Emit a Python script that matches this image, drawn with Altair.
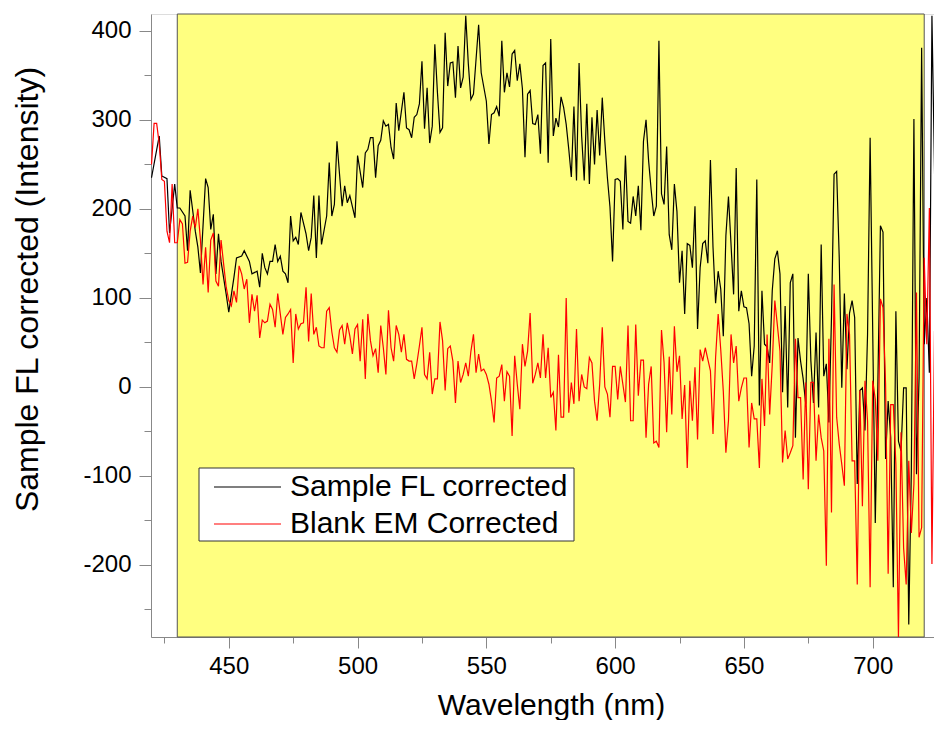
import altair as alt
import pandas as pd

# ---------------- data ----------------
wl_sample = [420, 423, 424, 426, 427, 429, 430, 431, 433, 434, 435, 437, 438, 439, 441, 442, 443, 444, 445, 446,
             447, 449, 450, 452, 453, 455, 456, 458, 459, 461, 462, 463, 464, 465, 466, 467, 468, 469, 470, 471,
             472, 473, 474, 475, 476, 477, 478, 480, 481, 482, 483, 484, 485, 486, 488, 489, 490, 491, 492, 493,
             494, 495, 496, 497, 499, 500, 502, 503, 504, 505, 506, 507, 508, 509, 510, 511, 512, 513, 514, 515,
             516, 518, 519, 520, 521, 522, 523, 524, 525, 526, 527, 528, 529, 530, 531, 532, 533, 534, 535, 536,
             537, 538, 539, 540, 541, 542, 543, 544, 545, 547, 548, 550, 551, 552, 553, 554, 555, 556, 557, 558,
             559, 560, 561, 562, 563, 564, 565, 566, 567, 568, 569, 570, 571, 572, 573, 574, 575, 576, 577, 578,
             579, 580, 581, 582, 583, 584, 585, 586, 587, 588, 589, 590, 591, 592, 593, 594, 595, 596, 597, 598,
             599, 600, 601, 602, 603, 604, 605, 606, 607, 608, 609, 610, 611, 612, 613, 614, 615, 616, 617, 618,
             619, 620, 621, 622, 623, 624, 625, 626, 627, 628, 629, 630, 631, 632, 633, 634, 635, 636, 637, 638,
             639, 640, 641, 642, 643, 644, 645, 646, 647, 648, 649, 650, 651, 652, 653, 654, 655, 656, 657, 658,
             659, 660, 661, 662, 663, 664, 665, 666, 667, 668, 669, 670, 671, 672, 673, 674, 675, 676, 677, 678,
             679, 680, 681, 682, 683, 684, 685, 686, 687, 688, 689, 690, 691, 692, 693, 694, 695, 696, 697, 698,
             699, 701, 702, 703, 704, 705, 706, 707, 708, 709, 710, 711, 712, 713, 714, 715, 716, 717, 718, 719,
             720, 721, 722, 723, 725, 726, 727]
sample_fl = [235, 282, 237, 234, 173, 228, 201, 201, 192, 153, 221, 175, 157, 128, 234, 224, 177, 194, 127, 172,
             141, 104, 84, 123, 145, 147, 153, 141, 127, 130, 112, 150, 134, 127, 141, 141, 160, 141, 147, 130,
             127, 117, 192, 164, 168, 160, 196, 172, 153, 168, 215, 145, 215, 160, 192, 252, 192, 205, 276, 239,
             203, 226, 207, 215, 190, 260, 224, 263, 267, 280, 280, 235, 271, 277, 299, 293, 295, 269, 256, 319,
             288, 331, 291, 289, 280, 303, 306, 318, 366, 290, 336, 274, 293, 385, 331, 286, 291, 398, 338, 364,
             365, 325, 383, 336, 348, 417, 363, 323, 329, 407, 353, 321, 273, 306, 308, 315, 304, 389, 331, 353,
             337, 374, 378, 344, 363, 335, 258, 329, 333, 296, 295, 306, 262, 361, 364, 252, 391, 282, 302, 292,
             326, 314, 295, 267, 236, 315, 232, 364, 282, 232, 318, 228, 303, 250, 311, 260, 325, 276, 235, 202,
             141, 233, 234, 231, 177, 260, 186, 184, 214, 192, 226, 176, 276, 300, 254, 221, 192, 203, 389, 217,
             205, 270, 171, 154, 228, 197, 117, 153, 82, 161, 159, 134, 203, 65, 134, 161, 164, 139, 255, 157,
             94, 130, 110, 57, 170, 214, 160, 104, 246, 85, 108, 90, 89, 71, 12, 46, 233, -21, 108, 48,
             45, 27, 108, 144, 153, 127, -6, 91, -23, 117, 127, -57, 55, 29, 9, -19, 127, 29, -18, 61,
             -23, 160, 12, 26, -40, 78, 239, 242, 146, -1, 105, 20, 83, 97, 78, -109, -4, -1, -49, 59,
             280, -153, 3, 181, 174, -81, -16, -57, -225, 85, -61, -72, -1, -1, -267, -94, 301, -98, 10, 381,
             48, 100, 16, 417, 71, 91, 30]

wl_blank = list(range(420, 728))
blank_em = [250, 296, 296, 273, 233, 231, 175, 162, 228, 162, 162, 188, 183, 139, 140, 175, 192, 179, 200, 165,
            115, 157, 106, 165, 173, 119, 113, 165, 138, 112, 97, 91, 108, 95, 136, 127, 110, 121, 72, 104,
            85, 103, 55, 75, 72, 74, 93, 87, 67, 105, 82, 59, 78, 82, 87, 27, 82, 65, 71, 72,
            112, 51, 105, 59, 67, 46, 44, 44, 85, 89, 62, 44, 39, 64, 69, 48, 72, 57, 37, 65,
            70, 29, 76, 9, 82, 52, 35, 43, 16, 69, 44, 14, 86, 44, 29, 69, 59, 39, 59, 31,
            29, 29, 9, 26, 46, 67, 14, 9, 39, -8, 9, 9, 73, 52, -4, 43, 46, 29, -18, 29,
            5, 14, 27, 12, 40, 59, 16, 37, 18, 20, 14, 3, -16, -40, 10, 12, 25, -16, 17, 12,
            -55, 35, 3, -25, 48, 23, 40, 83, 4, 14, 27, 10, 59, 10, 44, -12, -6, -49, 36, -34,
            -34, 100, -29, 5, -19, 65, -16, 14, 0, -2, 33, 27, -16, -38, 3, 67, 0, -8, -34, 23,
            23, -14, 23, 3, -17, 69, -38, -38, 70, -10, 30, 30, -57, 3, 23, -63, -61, -68, 64, 27,
            -51, 34, -31, 68, 17, 35, -36, 2, -91, 7, -38, 22, -59, 42, 29, 44, 31, 18, -53, 33,
            82, 42, -5, -74, -38, 59, 27, 46, -16, -1, 10, 10, -68, -18, -36, -36, -91, 9, -44, 59,
            -31, 25, 97, 69, 40, -85, -49, -81, -74, -66, 54, -12, -12, -104, 5, -115, 5, 5, -83, -31,
            -57, -72, -201, 54, -141, 115, -34, -64, -87, -111, 82, 59, -83, -83, -222, -4, -134, 7, -38, -225,
            7, -14, -83, 99, 89, 3, -210, -20, -20, -87, -282, -51, -181, -222, -83, -164, -109, 106, -169, -158,
            145, 48, 201, -199, 63, -222, -210, -27]

series_names = ["Sample FL corrected", "Blank EM Corrected"]
series_colors = ["#000000", "#ff0000"]

band_start = [430]
band_end = [720]

x_domain = [419.8, 723.8]
y_domain = [-281, 419]
x_ticks = [425, 450, 475, 500, 525, 550, 575, 600, 625, 650, 675, 700]
y_ticks = [-250, -200, -150, -100, -50, 0, 50, 100, 150, 200, 250, 300, 350, 400]

# ---------------- layout ----------------
W, H = 783, 623
FONT = "Liberation Sans"

df_sample = pd.DataFrame({"wl": wl_sample, "val": sample_fl})
df_blank = pd.DataFrame({"wl": wl_blank, "val": blank_em})
df_band = pd.DataFrame({"x": band_start, "x2": band_end})

xs = alt.Scale(domain=x_domain, nice=False, zero=False)
ys = alt.Scale(domain=y_domain, nice=False, zero=False)

x_axis = alt.Axis(
    values=x_ticks,
    labelExpr="datum.value % 50 === 0 ? '' + datum.value : ''",
    tickSize={"condition": {"test": "datum.value % 50 === 0", "value": 11}, "value": 6},
    labelPadding=6,
    labelFontSize=24,
    title="Wavelength (nm)",
    titleFontSize=30,
    titleFontWeight="normal",
    titleX=400,
    titleY=77,
    titleBaseline="alphabetic",
    titleAlign="center",
    grid=False,
)

y_axis = alt.Axis(
    values=y_ticks,
    labelExpr="datum.value % 100 === 0 ? '' + datum.value : ''",
    tickSize={"condition": {"test": "datum.value % 100 === 0", "value": 12}, "value": 7},
    labelPadding=8,
    labelFontSize=24,
    title="Sample FL corrected (Intensity)",
    titleFontSize=32,
    titleFontWeight="normal",
    titleAngle=270,
    titleX=-124,
    titleY=275,
    titleBaseline="middle",
    titleAlign="center",
    grid=False,
)

band = alt.Chart(df_band).mark_rect(
    fill="#FFFF80", stroke="#555555", strokeWidth=1
).encode(
    x=alt.X("x:Q", scale=xs, axis=x_axis),
    x2="x2:Q",
    y=alt.value(0),
    y2=alt.value(H),
)

line_sample = alt.Chart(df_sample).mark_line(
    color=series_colors[0], strokeWidth=1.2, clip=True
).encode(
    x=alt.X("wl:Q", scale=xs, axis=x_axis),
    y=alt.Y("val:Q", scale=ys, axis=y_axis),
)

line_blank = alt.Chart(df_blank).mark_line(
    color=series_colors[1], strokeWidth=1.2, clip=True
).encode(
    x=alt.X("wl:Q", scale=xs, axis=x_axis),
    y=alt.Y("val:Q", scale=ys, axis=y_axis),
)

# ---------------- legend (drawn box) ----------------
LX0, LX1, LY0, LY1 = 48, 423, 454, 527
row_y = [473, 510]
legend_box = alt.Chart(pd.DataFrame({"a": [0]})).mark_rect(
    fill="white", stroke="#333333", strokeWidth=1
).encode(x=alt.value(LX0), x2=alt.value(LX1), y=alt.value(LY0), y2=alt.value(LY1))

legend_layers = [legend_box]
for name, col, ry in zip(series_names, series_colors, row_y):
    d = pd.DataFrame({"label": [name]})
    legend_layers.append(
        alt.Chart(d).mark_rule(color=col, strokeWidth=1.2).encode(
            x=alt.value(63), x2=alt.value(130), y=alt.value(ry)
        )
    )
    legend_layers.append(
        alt.Chart(d).mark_text(
            align="left", baseline="middle", font=FONT, fontSize=30, color="black"
        ).encode(x=alt.value(139), y=alt.value(ry), text="label:N")
    )

chart = alt.layer(band, line_sample, line_blank, *legend_layers).properties(
    width=W,
    height=H,
    autosize=alt.AutoSizeParams(type="none"),
    padding={"left": 143, "top": 6, "right": 0, "bottom": 83},
).configure_view(stroke=None).configure_axis(
    labelFont=FONT,
    titleFont=FONT,
    labelColor="black",
    titleColor="black",
    domainColor="black",
    domainWidth=2,
    tickColor="black",
    tickWidth=2,
).configure(background="white")

chart.save("out.html", embed_options={"renderer": "svg", "actions": False})
